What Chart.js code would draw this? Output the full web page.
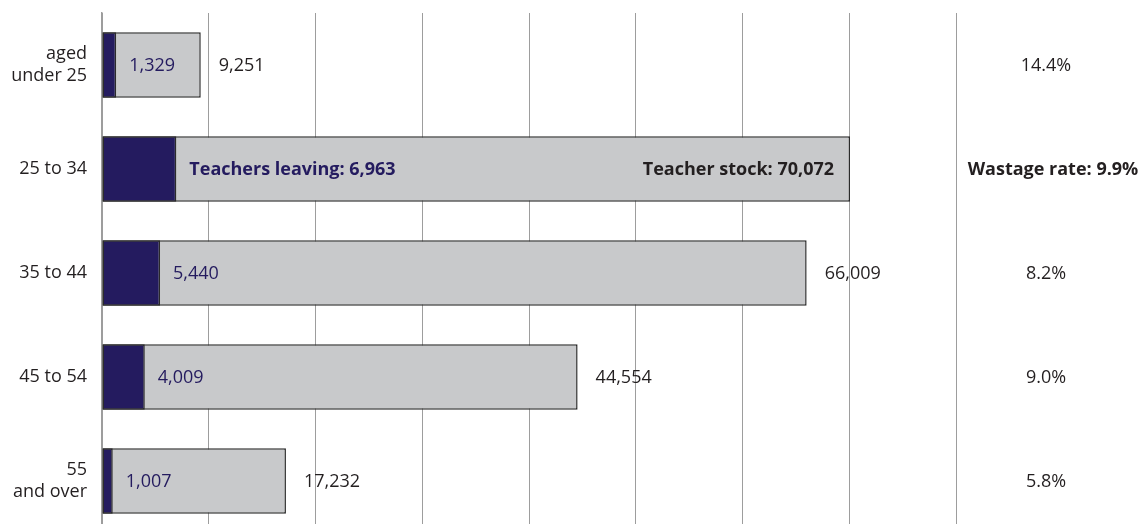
<!DOCTYPE html>
<html>
<head>
<meta charset="utf-8">
<script src="https://cdn.jsdelivr.net/npm/chart.js@4.4.1/dist/chart.umd.min.js"></script>
<style>
	html, body { margin:0; padding:0; background:#fff; overflow:hidden; }
	#wrap { width:1146px; height:533px; }
</style>
</head>
<body>
<div id="wrap"><canvas id="wastageChart" width="1146" height="533"></canvas></div>
<script>
// age groups (multi-line labels)
const ageGroups = [['aged', 'under 25'], '25 to 34', '35 to 44', '45 to 54', ['55', 'and over']];
// teachers leaving and teacher stock per age group
const teachersLeaving = [1329, 6963, 5440, 4009, 1007];
const teacherStock = [9251, 70072, 66009, 44554, 17232];
// wastage rate column on the right
const wastageRates = ['14.4%', '9.9%', '8.2%', '9.0%', '5.8%'];
// the row that carries the long captions
const captionRow = 1;

const navy = '#241b5f';
const ink = '#231f20';
const fontFam = '"Open Sans", sans-serif';

const labelPlugin = {
	id: 'barLabels',
	afterDatasetsDraw(chart) {
		let ctx = chart.ctx;
		let leaveMeta = chart.getDatasetMeta(0);
		let stockMeta = chart.getDatasetMeta(1);
		let area = chart.chartArea;
		ctx.save();
		ctx.textBaseline = 'middle';
		for(let i=0;i<teacherStock.length;i++) {
			let lb = leaveMeta.data[i];
			let sb = stockMeta.data[i];
			let y = sb.y + 1;
			let bold = (i === captionRow);
			ctx.font = (bold ? 'bold ' : '') + '18px ' + fontFam;

			// teachers leaving, just right of the dark bar
			ctx.fillStyle = navy;
			ctx.textAlign = 'left';
			let leaveTxt = teachersLeaving[i].toLocaleString('en-US');
			if(bold) leaveTxt = 'Teachers leaving: ' + leaveTxt;
			ctx.fillText(leaveTxt, lb.x + 13, y);

			// teacher stock
			ctx.fillStyle = ink;
			let stockTxt = teacherStock[i].toLocaleString('en-US');
			if(bold) {
				ctx.textAlign = 'right';
				ctx.fillText('Teacher stock: ' + stockTxt, sb.x - 16, y);
			} else {
				ctx.textAlign = 'left';
				ctx.fillText(stockTxt, sb.x + 18, y);
			}

			// wastage rate column
			ctx.textAlign = 'center';
			let rateTxt = bold ? 'Wastage rate: ' + wastageRates[i] : wastageRates[i];
			ctx.fillText(rateTxt, area.right + (bold ? 97 : 90), y);
		}
		ctx.restore();
	}
};

let ctx = document.querySelector('#wastageChart').getContext('2d');
new Chart(ctx, {
	type: 'bar',
	data: {
		labels: ageGroups,
		datasets: [{
			label: 'Teachers leaving',
			data: teachersLeaving,
			backgroundColor: navy,
			borderColor: '#2b2b2b',
			borderWidth: 1.5,
			grouped: false,
			borderSkipped: false
		}, {
			label: 'Teacher stock',
			data: teacherStock,
			backgroundColor: '#c8c9cb',
			borderColor: '#2b2b2b',
			borderWidth: 1.5,
			grouped: false,
			borderSkipped: false
		}]
	},
	options: {
		indexAxis: 'y',
		responsive: false,
		animation: false,
		barPercentage: 0.63,
		categoryPercentage: 1,
		layout: { padding: { top: 13, right: 190, left: 0, bottom: 0 } },
		plugins: {
			legend: { display: false },
			tooltip: { enabled: false }
		},
		scales: {
			x: {
				min: 0,
				max: 80000,
				afterFit(scale) {
					scale.height = 0;
					scale.paddingLeft = 0;
					scale.paddingRight = 0;
				},
				ticks: { display: false, stepSize: 10000 },
				grid: { color: '#9d9d9d', lineWidth: 1, drawTicks: false },
				border: { display: false }
			},
			y: {
				afterFit(scale) {
					scale.width = 102;
					scale.paddingTop = 0;
					scale.paddingBottom = 0;
				},
				ticks: {
					color: ink,
					padding: 15,
					font: { family: fontFam, size: 18, lineHeight: 1.2 }
				},
				grid: { display: false, drawTicks: false },
				border: { display: true, color: '#9d9d9d', width: 1.5 }
			}
		}
	},
	plugins: [labelPlugin]
});
</script>
</body>
</html>
